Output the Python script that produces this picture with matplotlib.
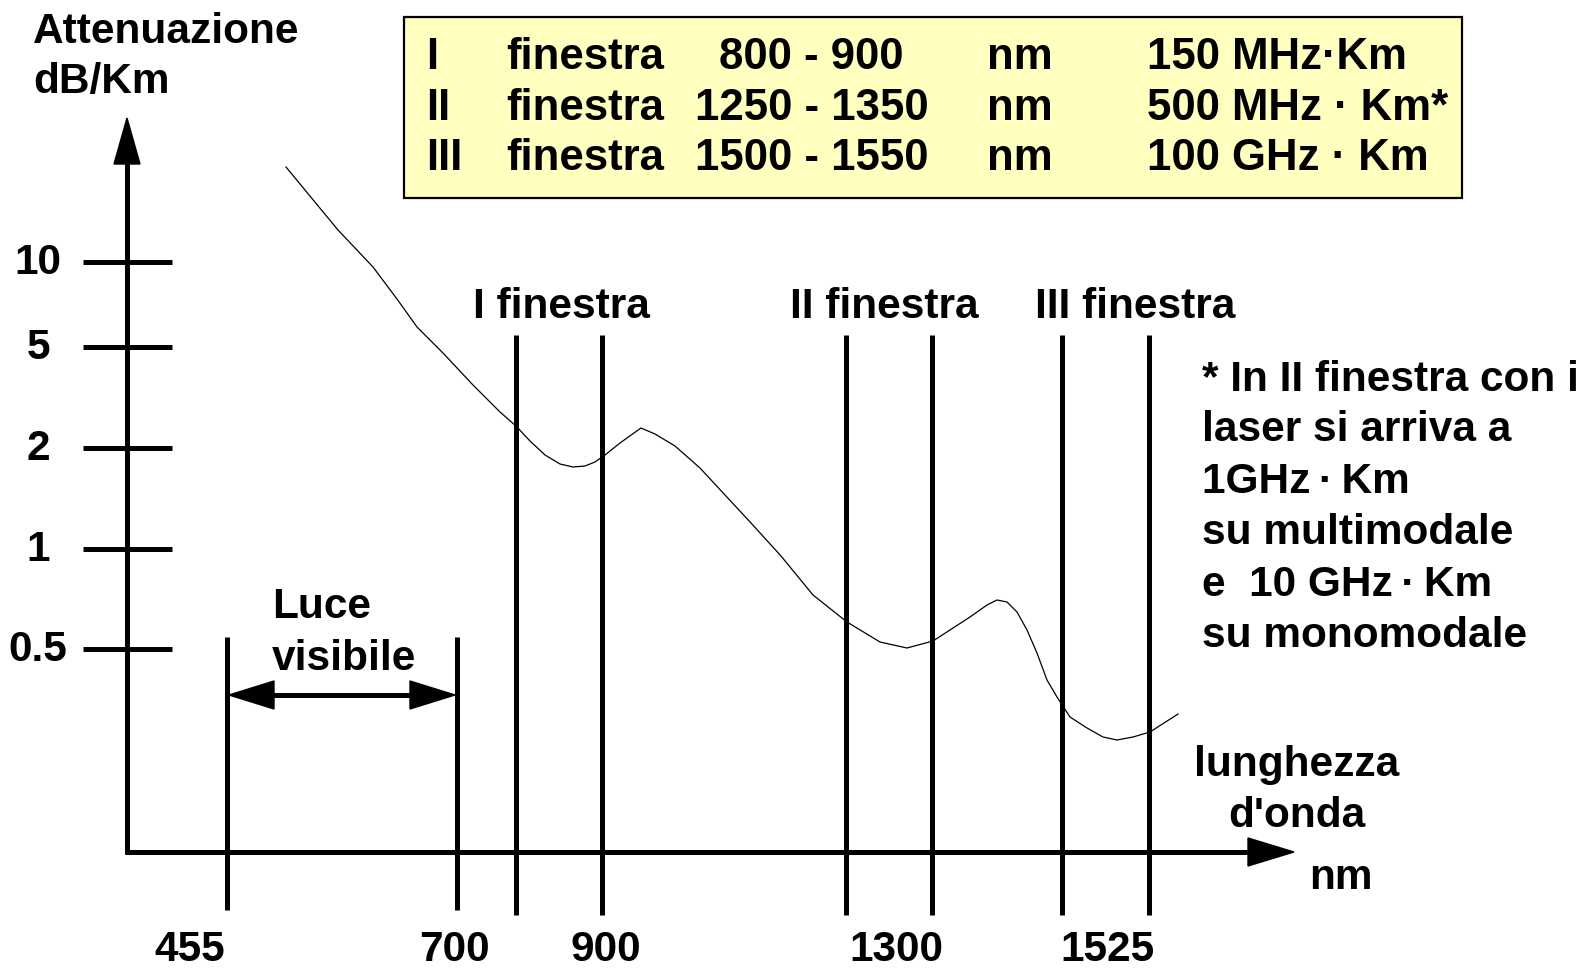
import numpy as np
import matplotlib
matplotlib.use("Agg")
import matplotlib.pyplot as plt
from matplotlib.patches import Rectangle

plt.rcParams['font.family'] = ['Liberation Sans', 'DejaVu Sans']
plt.rcParams['font.weight'] = 'bold'

# canvas in pixel units (schematic drawing, axes are not to scale)
W, H = 1591, 969

# curva di attenuazione
curve_x = [286, 338, 373, 397, 417, 443, 473, 500, 516, 530, 545, 560, 573, 585,
           595, 605, 620, 641, 655, 675, 700, 725, 751, 781, 813, 847, 880, 907,
           933, 970, 987, 997, 1007, 1017, 1027, 1037, 1047, 1057, 1070, 1087,
           1103, 1117, 1133, 1150, 1178]
curve_y = [167, 230, 267, 299, 327, 353, 385, 412, 426, 441, 455, 464, 467, 466,
           462, 455, 443, 428, 434, 446, 468, 495, 523, 556, 595, 622, 642, 648,
           641, 617, 605, 600, 602, 612, 630, 653, 680, 697, 717, 728,
           737, 740, 737, 732, 714]

# asse y: etichette e posizioni
y_tick_labels = ['10', '5', '2', '1', '0.5']
y_tick_pos = [262, 347, 448, 549, 649]

# finestre
window_names = ['I finestra', 'II finestra', 'III finestra']
window_lines = [[516, 602], [846, 932], [1062, 1149]]
window_label_x = [561, 884, 1135]

# luce visibile
visible_lines = [227, 457]

# etichette asse x
x_labels = ['455', '700', '900', '1300', '1525']
x_label_pos = [190, 454, 606, 896, 1107]

# tabella nel riquadro
tab_roman = ['I', 'II', 'III']
tab_range = ['800 - 900', '1250 - 1350', '1500 - 1550']
tab_range_x = [719, 695, 695]
tab_band = ['150 MHz·Km', '500 MHz · Km*', '100 GHz · Km']
tab_rows_y = [69, 120, 170]

note_lines = ['* In II finestra con i', 'laser si arriva a', '1GHz\u2009·\u2009Km',
              'su multimodale', 'e  10 GHz\u2009·\u2009Km', 'su monomodale']
note_y = [391, 441, 493, 544, 596, 647]

FS = 30.5
LW = 3.6

fig = plt.figure(figsize=(W / 100, H / 100), dpi=100)
ax = fig.add_axes([0, 0, 1, 1])
ax.set_xlim(0, W)
ax.set_ylim(H, 0)
ax.axis('off')

# assi
x0, y0 = 127, 852
ax.plot([x0, x0], [y0 + 2, 160], color='black', lw=LW, solid_capstyle='butt')
ax.fill([x0, x0 - 13, x0 + 13], [118, 164, 164], color='black')
ax.plot([x0 - 2, 1250], [y0, y0], color='black', lw=LW, solid_capstyle='butt')
ax.fill([1294, 1248, 1248], [y0, y0 - 14, y0 + 14], color='black')

# tacche asse y
for lab, yy in zip(y_tick_labels, y_tick_pos):
    ax.plot([83, 172], [yy, yy], color='black', lw=LW, solid_capstyle='butt')
    ax.text(38, yy + 12, lab, fontsize=FS, ha='center', va='baseline')

ax.text(33, 43, 'Attenuazione', fontsize=FS, ha='left', va='baseline')
ax.text(33, 93, 'dB/Km', fontsize=FS, ha='left', va='baseline')

# linee delle finestre
for name, pair, lx in zip(window_names, window_lines, window_label_x):
    for xx in pair:
        ax.plot([xx, xx], [335, 915], color='black', lw=LW, solid_capstyle='butt')
    ax.text(lx, 318, name, fontsize=FS, ha='center', va='baseline')

# luce visibile
for xx in visible_lines:
    ax.plot([xx, xx], [637, 910], color='black', lw=LW, solid_capstyle='butt')
ya = 695
ax.plot([visible_lines[0] + 40, visible_lines[1] - 40], [ya, ya], color='black', lw=LW)
ax.fill([visible_lines[0] + 2, visible_lines[0] + 47, visible_lines[0] + 47],
        [ya, ya - 14, ya + 14], color='black')
ax.fill([visible_lines[1] - 2, visible_lines[1] - 47, visible_lines[1] - 47],
        [ya, ya - 14, ya + 14], color='black')
ax.text(272, 618, 'Luce', fontsize=FS, ha='left', va='baseline')
ax.text(272, 670, 'visibile', fontsize=FS, ha='left', va='baseline')

# curva
ax.plot(curve_x, curve_y, color='black', lw=0.9, solid_joinstyle='round')

# etichette asse x
for lab, xx in zip(x_labels, x_label_pos):
    ax.text(xx, 961, lab, fontsize=FS, ha='center', va='baseline')

ax.text(1194, 776, 'lunghezza', fontsize=FS, ha='left', va='baseline')
ax.text(1228, 827, "d'onda", fontsize=FS, ha='left', va='baseline')
ax.text(1309, 889, 'nm', fontsize=FS, ha='left', va='baseline')

# riquadro giallo
ax.add_patch(Rectangle((404, 17), 1058, 181, facecolor='#FFFFC0',
                       edgecolor='black', lw=1.6, zorder=1))
FS2 = 31.5
for r, rng, rx, band, yy in zip(tab_roman, tab_range, tab_range_x, tab_band, tab_rows_y):
    ax.text(426, yy, r, fontsize=FS2, ha='left', va='baseline', zorder=3)
    ax.text(506, yy, 'finestra', fontsize=FS2, ha='left', va='baseline', zorder=3)
    ax.text(rx, yy, rng, fontsize=FS2, ha='left', va='baseline', zorder=3)
    ax.text(987, yy, 'nm', fontsize=FS2, ha='left', va='baseline', zorder=3)
    ax.text(1147, yy, band, fontsize=FS2, ha='left', va='baseline', zorder=3)

# nota a destra
for line, yy in zip(note_lines, note_y):
    ax.text(1202, yy, line, fontsize=FS, ha='left', va='baseline')

fig.savefig('out.png', dpi=100)
